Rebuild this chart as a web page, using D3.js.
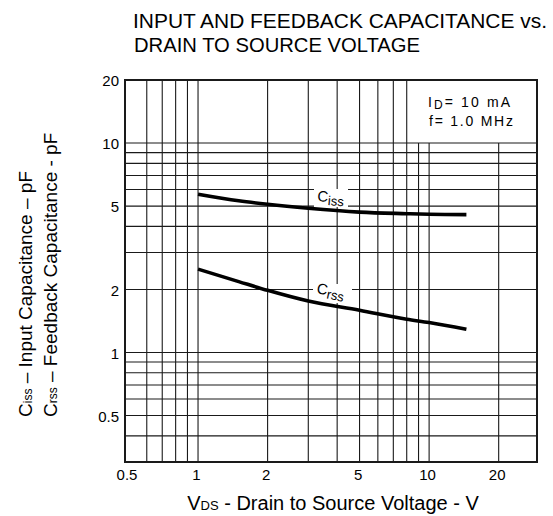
<!DOCTYPE html>
<html><head><meta charset="utf-8">
<script src="https://cdn.jsdelivr.net/npm/d3@7"></script>
<style>body{margin:0;background:#fff} svg{display:block;font-family:"Liberation Sans",Arial,Helvetica,sans-serif}</style>
</head><body>
<svg id="c" width="553" height="516"></svg>
<script>
// ---- data ----
const vds  = [1, 1.5, 2, 3, 5, 8, 10, 14.5];
const ciss = [5.7, 5.3, 5.1, 4.88, 4.68, 4.6, 4.57, 4.55];
const crss = [2.5, 2.18, 1.98, 1.76, 1.59, 1.44, 1.39, 1.29];
const xTicks = [0.5, 1, 2, 5, 10, 20];
const yTicks = [0.5, 1, 2, 5, 10, 20];
const xGridFull  = [0.6, 0.7, 0.8, 0.9, 1, 2, 3, 4, 5, 6, 7, 8];
const xGridLower = [9, 10, 20];
const yGrid = [0.4, 0.5, 0.6, 0.7, 0.8, 0.9, 1, 2, 3, 4, 5, 6, 7, 8, 9, 10];

const svg = d3.select("#c");
const L = 125, R = 537, T = 80, B = 462;
const x = d3.scaleLog().domain([0.483, 29.3]).range([L, R]);
const y = d3.scaleLog().domain([0.3, 20]).range([B, T]);
const ink = "#1a1a1a";

// title
const title = svg.append("g").attr("font-size", 20).attr("fill", "#000");
title.append("text").attr("x", 133).attr("y", 28).attr("textLength", 414).attr("lengthAdjust", "spacingAndGlyphs")
  .text("INPUT AND FEEDBACK CAPACITANCE vs.");
title.append("text").attr("x", 134).attr("y", 52).attr("textLength", 286).attr("lengthAdjust", "spacingAndGlyphs")
  .text("DRAIN TO SOURCE VOLTAGE");

// grid
const grid = svg.append("g").attr("stroke", ink).attr("stroke-width", 1.1).attr("fill", "none");
grid.selectAll("line.vf").data(xGridFull).join("line")
  .attr("x1", d => x(d)).attr("x2", d => x(d)).attr("y1", T).attr("y2", B);
grid.selectAll("line.vl").data(xGridLower).join("line").attr("class", "vl")
  .attr("x1", d => x(d)).attr("x2", d => x(d)).attr("y1", y(10)).attr("y2", B);
grid.selectAll("line.h").data(yGrid).join("line").attr("class", "h")
  .attr("x1", L).attr("x2", R).attr("y1", d => y(d)).attr("y2", d => y(d));

// frame
svg.append("rect").attr("x", L).attr("y", T).attr("width", R - L).attr("height", B - T)
  .attr("fill", "none").attr("stroke", ink).attr("stroke-width", 2);

// condition box text
const cond = svg.append("g").attr("font-size", 14).attr("fill", "#000");
const c1 = cond.append("text").attr("x", 428).attr("y", 107).attr("textLength", 82).attr("lengthAdjust", "spacing");
c1.append("tspan").text("I");
c1.append("tspan").attr("dy", 2).attr("font-size", 12).text("D");
c1.append("tspan").attr("dy", -2).text("= 10  mA");
cond.append("text").attr("x", 429).attr("y", 126).attr("textLength", 84).attr("lengthAdjust", "spacing")
  .text("f= 1.0  MHz");

// curve labels with white masks
svg.append("rect").attr("x", 314).attr("y", 189).attr("width", 34).attr("height", 18).attr("fill", "#fff");
svg.append("rect").attr("x", 313).attr("y", 284).attr("width", 39).attr("height", 19).attr("fill", "#fff");

function curveLabel(px, py, ang, main, sub) {
  const t = svg.append("text").attr("transform", `translate(${px},${py}) rotate(${ang})`)
    .attr("font-size", 15).attr("fill", "#000");
  t.append("tspan").text(main);
  t.append("tspan").attr("dy", 3).attr("font-size", 13).text(sub);
}
curveLabel(317, 201, 5, "C", "iss");
curveLabel(316, 293, 12, "C", "rss");

// curves
const line = d3.line().x(d => x(d[0])).y(d => y(d[1])).curve(d3.curveMonotoneX);
svg.append("path").datum(vds.map((v, i) => [v, ciss[i]])).attr("d", line)
  .attr("fill", "none").attr("stroke", "#000").attr("stroke-width", 3.6);
svg.append("path").datum(vds.map((v, i) => [v, crss[i]])).attr("d", line)
  .attr("fill", "none").attr("stroke", "#000").attr("stroke-width", 3.6);

// axes (labels only)
const xa = svg.append("g").attr("transform", `translate(-2,${B})`)
  .call(d3.axisBottom(x).tickValues(xTicks).tickSize(0).tickPadding(7).tickFormat(d3.format("")));
xa.select(".domain").remove();
xa.selectAll("text").attr("font-size", 15).attr("font-family", null).attr("fill", "#000");

const ya = svg.append("g").attr("transform", `translate(${L - 6},1)`)
  .call(d3.axisLeft(y).tickValues(yTicks).tickSize(0).tickPadding(0).tickFormat(d3.format("")));
ya.select(".domain").remove();
ya.selectAll("text").attr("font-size", 15).attr("font-family", null).attr("fill", "#000");

// x title
const xt = svg.append("text").attr("x", 333).attr("y", 510).attr("text-anchor", "middle")
  .attr("font-size", 20).attr("fill", "#000");
xt.append("tspan").text("V");
xt.append("tspan").attr("font-size", 13).text("DS");
xt.append("tspan").text(" - Drain to Source Voltage - V");

// y title
const yt1 = svg.append("text").attr("transform", "translate(32,417) rotate(-90)")
  .attr("font-size", 19).attr("fill", "#000");
yt1.append("tspan").text("C");
yt1.append("tspan").attr("font-size", 12).text("iss");
yt1.append("tspan").text(" \u2013 Input Capacitance \u2013 pF");
const yt2 = svg.append("text").attr("transform", "translate(57,417) rotate(-90)")
  .attr("font-size", 19).attr("fill", "#000");
yt2.append("tspan").text("C");
yt2.append("tspan").attr("font-size", 12).text("rss");
yt2.append("tspan").text(" \u2013 Feedback Capacitance - pF");
</script>
</body></html>
